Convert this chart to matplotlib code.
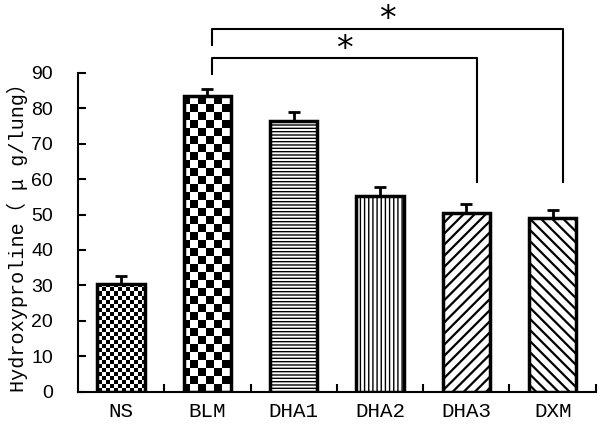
import numpy as np
import matplotlib
matplotlib.use('Agg')
import matplotlib.pyplot as plt

plt.rcParams['font.family'] = ['Liberation Mono', 'Noto Sans CJK SC', 'DejaVu Sans']

groups = ['NS', 'BLM', 'DHA1', 'DHA2', 'DHA3', 'DXM']
means = [30.5, 83.5, 76.5, 55.3, 50.3, 49.0]
errs = [2.2, 2.0, 2.3, 2.5, 2.7, 2.2]
yticks = [0, 10, 20, 30, 40, 50, 60, 70, 80, 90]
# significance brackets: (from group, to group, bracket level, star level)
sig_pairs = [('BLM', 'DHA3', 94.0, 96.6), ('BLM', 'DXM', 102.4, 105.0)]

fig = plt.figure(figsize=(6, 4.25), dpi=100)
ax = fig.add_axes([0.13, 0.078, 0.863, 0.751])

x = np.arange(len(groups))
hatches = [None, None, '-----', '||||', '///', '\\\\\\']
faces = ['none', 'none', 'white', 'white', 'white', 'white']
bars = ax.bar(x, means, width=0.55, color=faces, edgecolor='black',
              linewidth=2.5, zorder=3)
for b, h in zip(bars, hatches):
    if h:
        b.set_hatch(h)
        try:
            b.set_hatch_linewidth(1.6 if h in ('///', '\\\\\\') else 1.0)
        except AttributeError:
            pass

ax.errorbar(x, means, yerr=[np.zeros(len(errs)), errs], fmt='none',
            ecolor='black', elinewidth=2, capsize=4.5, capthick=2, zorder=4)

# checkerboard fills for NS (fine) and BLM (coarse), clipped to the bars
for idx, ncell in [(0, (80, 130)), (1, (40, 65))]:
    board = np.indices(ncell).sum(axis=0) % 2
    im = ax.imshow(board, cmap='gray', interpolation='nearest', aspect='auto',
                   extent=[-0.5, len(groups) - 0.5, 0, 90], zorder=2.5)
    im.set_clip_path(bars[idx])
ax.set_xlim(-0.5, len(groups) - 0.5)
ax.set_ylim(0, 90)

ax.spines['top'].set_visible(False)
ax.spines['right'].set_visible(False)
ax.spines['left'].set_linewidth(1.5)
ax.spines['bottom'].set_linewidth(1.5)

ax.set_yticks(yticks)
ax.set_yticklabels([str(v) for v in yticks], family='Liberation Sans', fontsize=14)
ax.tick_params(axis='y', direction='in', length=6, width=1.5, pad=18)
ax.set_xticks(x)
ax.set_xticklabels(groups, fontsize=15)
ax.tick_params(axis='x', length=0, pad=7)
ax.set_xticks(np.arange(len(groups)) + 0.5, minor=True)
ax.tick_params(axis='x', which='minor', direction='in', length=6, width=1.5)

ax.set_ylabel('Hydroxyproline（ μ g/lung）', fontsize=14.5, labelpad=2)

for g1, g2, level, star in sig_pairs:
    i1, i2 = groups.index(g1), groups.index(g2)
    x1, x2 = i1 + 0.05, i2 + 0.12
    ax.plot([x1, x1, x2, x2], [level - 4.5, level, level, 59.3],
            color='black', linewidth=1.5, clip_on=False, zorder=5)
    ax.text((x1 + x2) / 2, star, '*', ha='center', va='center',
            fontsize=24, family='DejaVu Sans', clip_on=False)

fig.savefig('out.png', dpi=100)
